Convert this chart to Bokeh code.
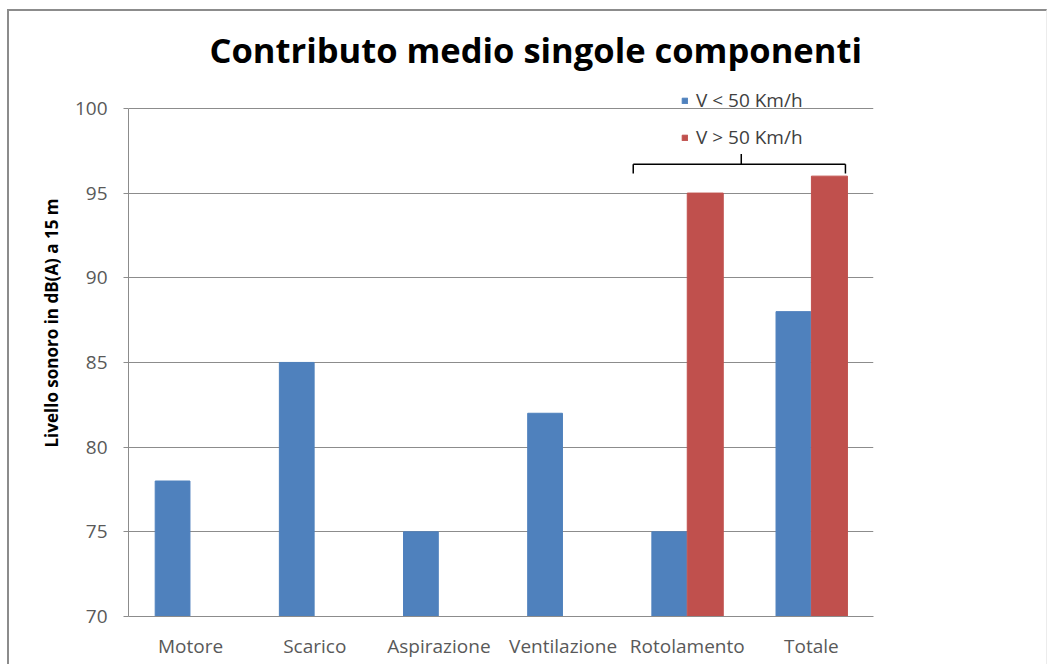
from bokeh.plotting import figure
from bokeh.models import (ColumnDataSource, FactorRange, Range1d, FixedTicker,
                          Legend, LegendItem, Title)
from bokeh.transform import dodge
from bokeh.embed import file_html
from bokeh.resources import INLINE

# Average noise contribution of each vehicle component (dB(A) at 15 m)
componenti = ["Motore", "Scarico", "Aspirazione", "Ventilazione", "Rotolamento", "Totale"]
lento = [78, 85, 75, 82, 75, 88]      # V < 50 Km/h
veloce = [70, 70, 70, 70, 95, 96]     # V > 50 Km/h
y_ticks = [70, 75, 80, 85, 90, 95, 100]

BLUE = "#4F81BD"
RED = "#C0504D"
GRID = "#8C8C8C"
FONT = "Open Sans"

src = ColumnDataSource(dict(cat=componenti, lento=lento, veloce=veloce))

# the plot area reaches a little above 100 so the legend has room there
p = figure(width=1040, height=655, x_range=FactorRange(*componenti, range_padding=0),
           y_range=Range1d(70, 102), output_backend="svg", toolbar_location=None,
           min_border_left=119, min_border_right=176, min_border_top=63,
           min_border_bottom=50, margin=(9, 0, 0, 7),
           styles={"border-top": "2px solid #8c8c8c", "border-left": "2px solid #8c8c8c",
                   "border-right": "1px solid #ececec"})
p.outline_line_color = None
p.background_fill_color = "white"
p.border_fill_color = "white"

r1 = p.vbar(x=dodge("cat", -0.145, range=p.x_range), top="lento", bottom=70, width=0.28,
            source=src, fill_color=BLUE, line_color=BLUE, line_width=1)
r2 = p.vbar(x=dodge("cat", 0.145, range=p.x_range), top="veloce", bottom=70, width=0.29,
            source=src, fill_color=RED, line_color=RED, line_width=1)

# axes
p.yaxis.ticker = FixedTicker(ticks=y_ticks)
p.yaxis.bounds = (70, 100)
p.yaxis.minor_tick_line_color = None
p.yaxis.major_tick_out = 5
p.yaxis.major_tick_in = 0
p.yaxis.axis_line_color = GRID
p.yaxis.major_tick_line_color = GRID
p.yaxis.major_label_text_font = FONT
p.yaxis.major_label_text_font_size = "19px"
p.yaxis.major_label_text_color = "#595959"
p.yaxis.major_label_standoff = 16

p.xaxis.axis_line_color = GRID
p.xaxis.major_tick_line_color = None
p.xaxis.major_tick_out = 0
p.xaxis.major_label_text_font = FONT
p.xaxis.major_label_text_font_size = "19px"
p.xaxis.major_label_text_color = "#595959"
p.xaxis.major_label_standoff = 16

p.xgrid.grid_line_color = None
p.ygrid.grid_line_color = GRID
p.ygrid.ticker = FixedTicker(ticks=y_ticks)

# vertical axis title, set above the middle of the plot area
p.add_layout(Title(text="Livello sonoro in dB(A) a 15 m", text_font=FONT,
                   text_font_style="bold", text_font_size="17px", text_color="black",
                   align="left", offset=169, standoff=18), "left")

# chart title
p.title.text = "Contributo medio singole componenti"
p.title.text_font = FONT
p.title.text_font_style = "bold"
p.title.text_font_size = "34.5px"
p.title.text_color = "black"
p.title.align = "left"
p.title.offset = 71
p.title.standoff = 4
p.title.padding = (10, 0, 0, 0)

# brace grouping the two high-speed bars
BRACE_Y, BRACE_END, BRACE_TIP = 96.7, 96.15, 97.3
L_OFF, R_OFF, MID_OFF = -0.435, 0.274, 0.435
p.segment(x0=dodge("a", L_OFF, range=p.x_range), x1=dodge("b", R_OFF, range=p.x_range),
          y0=BRACE_Y, y1=BRACE_Y,
          source=ColumnDataSource(dict(a=["Rotolamento"], b=["Totale"])),
          line_color="black", line_width=1.5)
for cat, off, y_end in [("Rotolamento", L_OFF, BRACE_END), ("Totale", R_OFF, BRACE_END),
                        ("Rotolamento", MID_OFF, BRACE_TIP)]:
    p.segment(x0=dodge("x", off, range=p.x_range), x1=dodge("x", off, range=p.x_range),
              y0=BRACE_Y, y1=y_end, source=ColumnDataSource(dict(x=[cat])),
              line_color="black", line_width=1.5)

legend = Legend(items=[LegendItem(label="V < 50 Km/h", renderers=[r1]),
                       LegendItem(label="V > 50 Km/h", renderers=[r2])],
                location=(553, 466), background_fill_alpha=0, border_line_color=None,
                glyph_width=7, glyph_height=7, label_height=22, spacing=11,
                padding=0, margin=0, label_standoff=8,
                label_text_font=FONT, label_text_font_size="19px",
                label_text_color="#404040")
p.add_layout(legend)

open("out.html", "w").write(file_html(p, INLINE))
